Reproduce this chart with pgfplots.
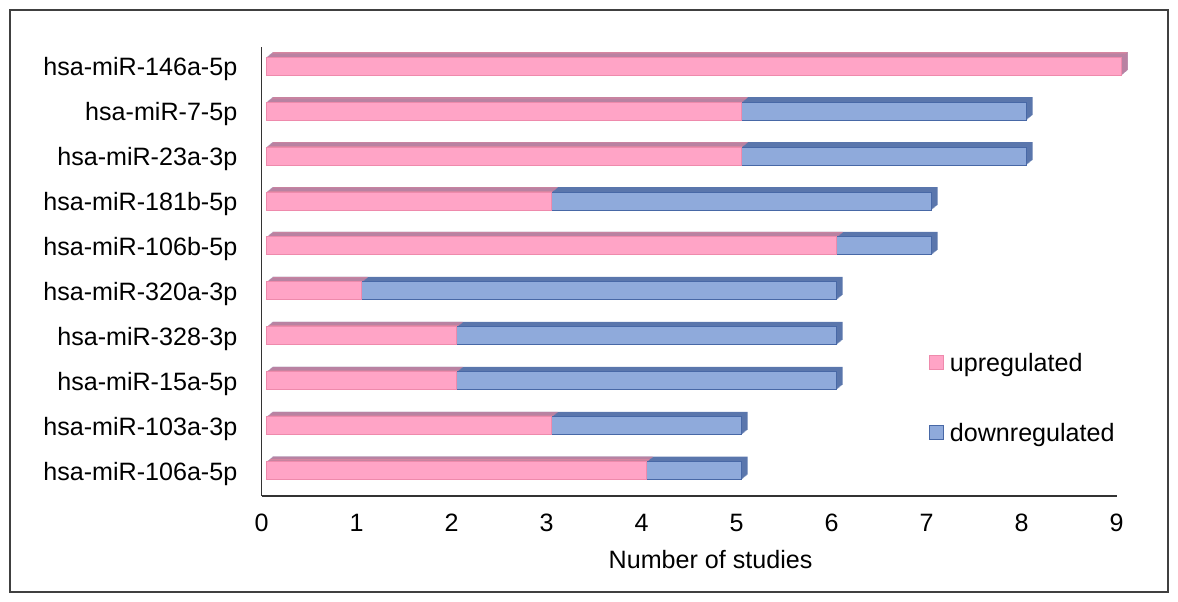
\documentclass[border=0pt]{standalone}
\usepackage{pgfplots}
\pgfplotsset{compat=1.18}
\usepackage{pgfplotstable}
\usepackage{fontspec}
\setmainfont{Liberation Sans}

\definecolor{upFront}{RGB}{255,164,198}
\definecolor{upEdge}{RGB}{238,138,172}
\definecolor{upDepth}{RGB}{214,134,160}
\definecolor{downFront}{RGB}{143,170,219}
\definecolor{downEdge}{RGB}{72,104,166}
\definecolor{downDepth}{RGB}{90,118,172}

% number of studies reporting each miRNA as up- or downregulated
\pgfplotstableread{
idx up down
0 4 1
1 3 2
2 2 4
3 2 4
4 1 5
5 6 1
6 3 4
7 5 3
8 5 3
9 9 0
}\studies

\newcommand{\lblfont}{\fontsize{12.6}{15}\selectfont}

\begin{document}
\begin{tikzpicture}
\path[use as bounding box] (-130.85bp,-53bp) rectangle (458.15bp,248bp);
\begin{axis}[
  at={(0,0)}, anchor=south west,
  scale only axis, width=427.5bp, height=224.75bp,
  xmin=0, xmax=9, ymin=-0.5, ymax=9.5,
  axis x line=bottom, axis y line=left,
  axis line style={-, line width=0.8bp, draw=black!80},
  xtick={0,...,9}, ytick={0,...,9},
  yticklabels={hsa-miR-106a-5p,hsa-miR-103a-3p,hsa-miR-15a-5p,hsa-miR-328-3p,hsa-miR-320a-3p,hsa-miR-106b-5p,hsa-miR-181b-5p,hsa-miR-23a-3p,hsa-miR-7-5p,hsa-miR-146a-5p},
  major tick length=0pt,
  tick label style={font=\lblfont},
  /pgf/number format/assume math mode=true,
  xticklabel style={inner sep=0pt, anchor=north, yshift=-9bp},
  yticklabel style={inner sep=0pt, anchor=east, xshift=-12bp},
  xlabel={Number of studies},
  xlabel style={font=\lblfont, at={(axis description cs:0.525,0)}, anchor=base, yshift=-36bp},
  clip=false,
  xbar, bar width=9bp, bar shift=0pt,
  legend style={at={(0.7805,0.318)}, anchor=north west, draw=none, fill=none,
    inner sep=0pt, outer sep=0pt, row sep=23.5bp, font=\lblfont,
    nodes={inner sep=0pt, text height=9bp, text depth=2.6bp}},
  legend cell align=left,
]
% depth layers of the bars, back to front
\pgfplotsinvokeforeach{6,5,4,3,2,1}{
  \addplot[forget plot, bar shift=0pt, draw=none, fill=downDepth,
    xshift={2.5bp+#1*0.5bp}, yshift={1.4bp+#1*0.4167bp}]
    table[x expr=\thisrow{up}+\thisrow{down}, y=idx] {\studies};
  \addplot[forget plot, bar shift=0pt, draw=none, fill=upDepth,
    xshift={2.5bp+#1*0.5bp}, yshift={1.4bp+#1*0.4167bp}]
    table[x=up, y=idx] {\studies};
}
% front faces
\addplot[forget plot, bar shift=0pt, draw=downEdge, line width=0.5bp, fill=downFront,
  xshift=2.5bp, yshift=1.4bp]
  table[x expr=\thisrow{up}+\thisrow{down}, y=idx] {\studies};
\addplot[forget plot, bar shift=0pt, draw=upEdge, line width=0.5bp, fill=upFront,
  xshift=2.5bp, yshift=1.4bp]
  table[x=up, y=idx] {\studies};

\addlegendimage{legend image code/.code={\draw[fill=upFront, draw=upEdge, line width=0.5bp] (0bp,-2.3bp) rectangle (6.8bp,4.5bp); \path (10bp,0bp);}}
\addlegendentry{upregulated}
\addlegendimage{legend image code/.code={\draw[fill=downFront, draw=downEdge, line width=0.5bp] (0bp,-2.3bp) rectangle (6.8bp,4.5bp); \path (10bp,0bp);}}
\addlegendentry{downregulated}
\end{axis}
\draw[line width=1bp, draw=black!75] (-125.85bp,-48bp) rectangle (453.15bp,243bp);
\end{tikzpicture}
\end{document}
